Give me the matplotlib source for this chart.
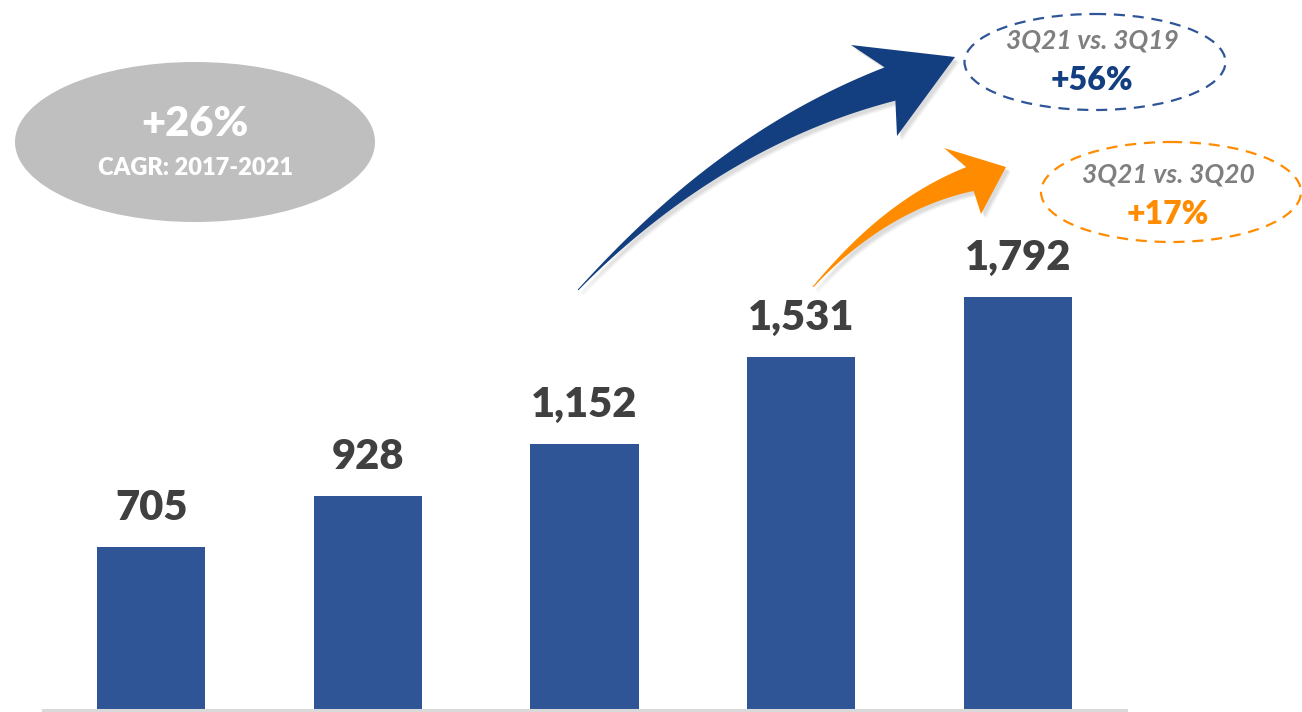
import matplotlib.pyplot as plt
import matplotlib.patches as mpatches
import matplotlib.patheffects as pe
import numpy as np

plt.rcParams['font.family'] = ['Lato', 'DejaVu Sans']

BAR = "#2f5597"
NAVY = "#133f80"
ORANGE = "#ff8c00"
LABEL = "#404040"
GREY_TXT = "#7f7f7f"
ELL_GREY = "#bfbfbf"

years = ["2017", "2018", "2019", "2020", "2021"]
values = [705, 928, 1152, 1531, 1792]
value_labels = ["705", "928", "1,152", "1,531", "1,792"]

cagr_text = "+26%"
cagr_sub = "CAGR: 2017-2021"
cmp19_title = "3Q21 vs. 3Q19"
cmp19_value = "+56%"
cmp20_title = "3Q21 vs. 3Q20"
cmp20_value = "+17%"


def curved_arrow(ax, p0, p1, p2, tip, barb_a, barb_b, w_end, color, n=80):
    p0, p1, p2 = np.array(p0, float), np.array(p1, float), np.array(p2, float)
    t = np.linspace(0, 1, n)[:, None]
    pts = (1 - t) ** 2 * p0 + 2 * (1 - t) * t * p1 + t ** 2 * p2
    d = 2 * (1 - t) * (p1 - p0) + 2 * t * (p2 - p1)
    nrm = np.column_stack([-d[:, 1], d[:, 0]])
    nrm /= np.linalg.norm(nrm, axis=1)[:, None]
    w = (1.0 + (w_end - 1.0) * t[:, 0] ** 1.25) / 2
    upper = pts + nrm * w[:, None]
    lower = pts - nrm * w[:, None]
    a, b = np.array(barb_a, float), np.array(barb_b, float)
    if np.linalg.norm(upper[-1] - a) > np.linalg.norm(upper[-1] - b):
        a, b = b, a
    poly = np.vstack([upper, [a, tip, b], lower[::-1]])
    # soft shadow: a few offset layers
    for off, al in [((5, 5), 0.08), ((4, 4), 0.10), ((3, 3), 0.12)]:
        ax.add_patch(mpatches.Polygon(poly + np.array(off), closed=True, facecolor="#808080",
                                      edgecolor="none", alpha=al, zorder=4))
    ax.add_patch(mpatches.Polygon(poly, closed=True, facecolor=color, edgecolor="none", zorder=5))


fig = plt.figure(figsize=(13.02, 7.12), dpi=100)
fig.patch.set_facecolor("white")

# bar axes
ax = fig.add_axes([43 / 1302, 2 / 712, 1083 / 1302, 710 / 712])
x = np.arange(len(values))
ax.bar(x, values, width=0.5, color=BAR, zorder=1)
ax.set_xlim(-0.5, len(values) - 0.5)
ax.set_ylim(0, 3080)
for xi, v, lab in zip(x, values, value_labels):
    ax.annotate(lab, (xi, v), xytext=(0, 19.5), textcoords="offset points",
                ha="center", va="baseline", fontsize=30, fontweight="heavy", color=LABEL)
for s in ["top", "left", "right"]:
    ax.spines[s].set_visible(False)
ax.spines["bottom"].set_color("#d9d9d9")
ax.spines["bottom"].set_linewidth(2.2)
ax.set_xticks([])
ax.set_yticks([])
ax.patch.set_alpha(0)

# overlay in pixel coordinates for callouts
ov = fig.add_axes([0, 0, 1, 1], zorder=3)
ov.set_xlim(0, 1302)
ov.set_ylim(712, 0)
ov.axis("off")
ov.patch.set_alpha(0)

ov.add_patch(mpatches.Ellipse((195, 142), 360, 160, facecolor=ELL_GREY, edgecolor="none"))
ov.text(195, 124, cagr_text, ha="center", va="center", fontsize=30, fontweight="heavy", color="white")
ov.text(195, 168, cagr_sub, ha="center", va="center", fontsize=17, fontweight="heavy", color="white")

ov.add_patch(mpatches.Ellipse((1095, 62), 261, 96, facecolor="none", edgecolor="#2f5597",
                              lw=1.6, ls=(0, (5, 3.5))))
ov.text(1092, 41, cmp19_title, ha="center", va="center", fontsize=19, style="italic",
        fontweight="bold", color=GREY_TXT)
ov.text(1092, 80, cmp19_value, ha="center", va="center", fontsize=23, fontweight="heavy", color=NAVY)

ov.add_patch(mpatches.Ellipse((1171, 192), 260, 100, facecolor="none", edgecolor=ORANGE,
                              lw=1.6, ls=(0, (5, 3.5))))
ov.text(1168, 175, cmp20_title, ha="center", va="center", fontsize=19, style="italic",
        fontweight="bold", color=GREY_TXT)
ov.text(1168, 215, cmp20_value, ha="center", va="center", fontsize=23, fontweight="heavy", color=ORANGE)

curved_arrow(ov, (578, 290), (720, 139), (890, 84), (955, 57), (851, 45), (897, 136), 35, NAVY)
curved_arrow(ov, (813, 287), (885, 205), (970, 179), (1006, 167), (944, 148), (981, 214), 25, ORANGE)

fig.savefig("out.png", dpi=100, facecolor="white")
